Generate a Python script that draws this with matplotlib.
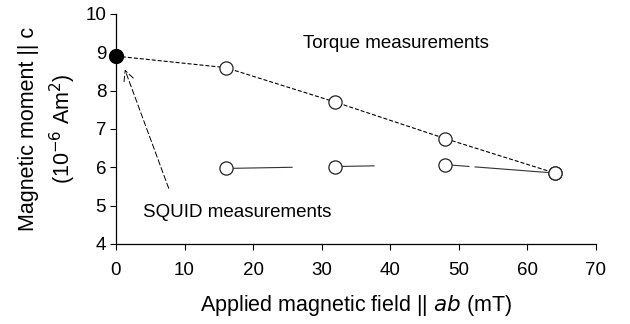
import matplotlib
matplotlib.use("Agg")
import matplotlib.pyplot as plt

plt.rcParams['font.family'] = ['Liberation Sans', 'DejaVu Sans']
plt.rcParams['lines.scale_dashes'] = False

# Data
squid_x = [0]
squid_y = [8.9]
torque_x = [16, 32, 48, 64]
torque_upper = [8.6, 7.7, 6.75, 5.85]
torque_lower = [5.97, 6.02, 6.07, 5.85]
x_ticks = [0, 10, 20, 30, 40, 50, 60, 70]
y_ticks = [4, 5, 6, 7, 8, 9, 10]

fig = plt.figure(figsize=(6.3, 3.24), dpi=100)
ax = fig.add_axes([0.184, 0.247, 0.762, 0.71])

px = 0.72  # points per pixel
# upper dashed curve from the SQUID point through torque points
ax.plot(squid_x + torque_x, squid_y + torque_upper, color='black', lw=0.8,
        dashes=(4 * px, 2 * px), zorder=2)
# lower curve with irregular gaps
ax.plot(torque_x, torque_lower, color='#333333', lw=0.8,
        dashes=(67 * px, 43 * px, 39 * px, 70 * px, 25 * px, 5 * px, 80 * px, 10 * px),
        zorder=2)

ax.plot(torque_x, torque_upper, 'o', ms=9.5, mfc='white', mec='#222222', mew=0.9, zorder=3)
ax.plot(torque_x, torque_lower, 'o', ms=9.5, mfc='white', mec='#222222', mew=0.9, zorder=3)
ax.plot(squid_x, squid_y, 'o', ms=10, color='black', zorder=4, clip_on=False)

# annotations
ax.text(27.3, 9.22, 'Torque measurements', fontsize=13.5, va='center', ha='left')
ax.text(3.9, 4.81, 'SQUID measurements', fontsize=13.5, va='center', ha='left')
ax.annotate('', xy=(1.3, 8.55), xytext=(7.7, 5.45),
            arrowprops=dict(arrowstyle='->', lw=0.7, linestyle=(0, (4, 2)),
                            color='black', mutation_scale=18, shrinkA=0, shrinkB=0))

ax.set_xlim(0, 70)
ax.set_ylim(4, 10)
ax.set_xticks(x_ticks)
ax.set_yticks(y_ticks)
ax.tick_params(labelsize=13.5, length=4, width=0.8, direction='out')
ax.tick_params(axis='x', pad=9)
ax.tick_params(axis='y', pad=3)
for s in ['top', 'right']:
    ax.spines[s].set_visible(False)
for s in ['left', 'bottom']:
    ax.spines[s].set_linewidth(0.9)

ax.set_xlabel('Applied magnetic field || $\\mathit{ab}$ (mT)', fontsize=15.5, labelpad=10)
ax.set_ylabel('Magnetic moment || c\n(10$^{-6}$ Am$^{2}$)', fontsize=15.5, labelpad=5,
              linespacing=1.4)

fig.savefig('out.png', dpi=100)
